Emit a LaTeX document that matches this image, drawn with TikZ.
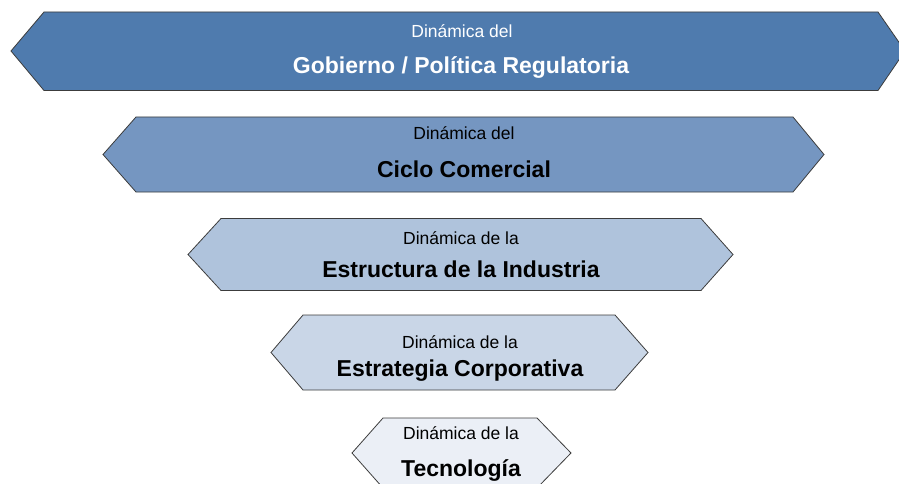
\documentclass[tikz,border=0pt]{standalone}
\usepackage{fontspec}
\setmainfont{Liberation Sans}
\usetikzlibrary{positioning}
\definecolor{bandA}{RGB}{79,123,174}
\definecolor{bandB}{RGB}{117,150,193}
\definecolor{bandC}{RGB}{175,195,220}
\definecolor{bandD}{RGB}{201,214,231}
\definecolor{bandE}{RGB}{235,239,246}
\definecolor{edge}{RGB}{60,60,60}
\begin{document}
\begin{tikzpicture}[x=1pt,y=-1pt]
	\tikzstyle{band}=[draw=edge,line width=0.8pt,line join=miter]
	\tikzstyle{small}=[anchor=base,inner sep=0pt,font=\fontsize{17.5}{20}\selectfont]
	\tikzstyle{big}=[anchor=base,inner sep=0pt,font=\bfseries\fontsize{23}{26}\selectfont]
	
	\useasboundingbox (0,0) rectangle (899,484);
	\clip (0,0) rectangle (899,484);
	
	\filldraw[band,fill=bandA] (11,51) -- (44,12) -- (878,12) -- (905,51) -- (878,90.5) -- (44,90.5) -- cycle;
	\filldraw[band,fill=bandB] (103,154.5) -- (136,117) -- (793,117) -- (824,154.5) -- (793,192) -- (136,192) -- cycle;
	\filldraw[band,fill=bandC] (188,254.5) -- (221,218.5) -- (701,218.5) -- (733,254.5) -- (701,290.5) -- (221,290.5) -- cycle;
	\filldraw[band,fill=bandD] (271,352.5) -- (303,315) -- (615,315) -- (648,352.5) -- (615,390) -- (303,390) -- cycle;
	\filldraw[band,fill=bandE] (352,453) -- (383,418) -- (537,418) -- (571,453) -- (537,488) -- (383,488) -- cycle;
	
	\node[small,text=white] (gobA) at (462,37.5) {Dinámica del};
	\node[big,text=white] (gobB) at (461,74) {Gobierno / Política Regulatoria};
	\node[small] (cicA) at (464,139.3) {Dinámica del};
	\node[big] (cicB) at (464,177) {Ciclo Comercial};
	\node[small] (estA) at (461,244.8) {Dinámica de la};
	\node[big] (estB) at (461,277.7) {Estructura de la Industria};
	\node[small] (corA) at (460,348) {Dinámica de la};
	\node[big] (corB) at (460,376) {Estrategia Corporativa};
	\node[small] (tecA) at (461,439) {Dinámica de la};
	\node[big] (tecB) at (461,476.7) {Tecnología};
	
\end{tikzpicture}
\end{document}
